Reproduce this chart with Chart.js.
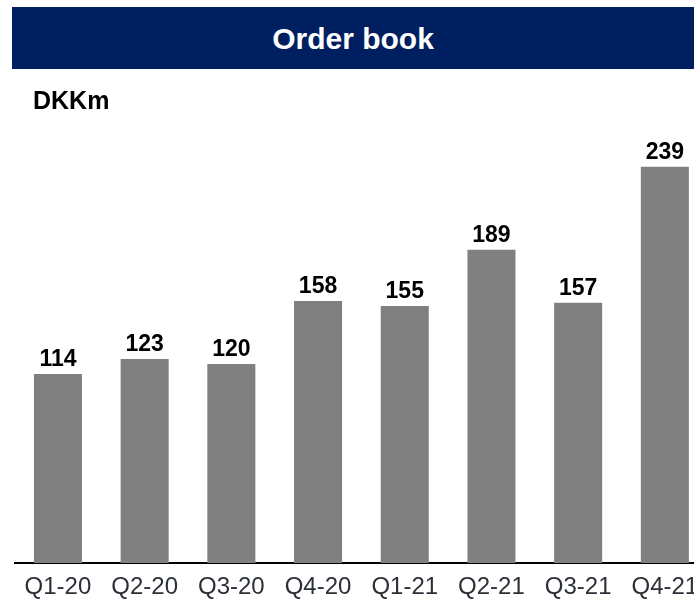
<!DOCTYPE html>
<html>
<head>
<meta charset="utf-8">
<script src="https://cdn.jsdelivr.net/npm/chart.js@4/dist/chart.umd.min.js"></script>
<style>
  html, body { margin: 0; padding: 0; width: 694px; height: 600px; overflow: hidden; background: #fff; }
  #banner { position: absolute; left: 12px; top: 7px; width: 682px; height: 62px; background: #001f60;
    color: #fff; font: bold 30px "Liberation Sans", Arial, sans-serif; text-align: center; line-height: 64px; z-index: 2; }
  #unit { position: absolute; left: 33px; top: 86px; font: bold 25px "Liberation Sans", Arial, sans-serif; color: #000; z-index: 2; }
  #wrap { position: absolute; left: 0; top: 0; width: 720px; height: 600px; }
</style>
</head>
<body>
<div id="banner">Order book</div>
<div id="unit">DKKm</div>
<div id="wrap"><canvas id="c" width="720" height="600"></canvas></div>
<script>
const categories = ["Q1-20", "Q2-20", "Q3-20", "Q4-20", "Q1-21", "Q2-21", "Q3-21", "Q4-21"];
const orderBook = [114, 123, 120, 158, 155, 189, 157, 239];

const valueLabels = {
  id: 'valueLabels',
  afterDatasetsDraw(chart) {
    const ctx = chart.ctx;
    const meta = chart.getDatasetMeta(0);
    ctx.save();
    ctx.font = 'bold 23px "Liberation Sans", Arial, sans-serif';
    ctx.fillStyle = '#000';
    ctx.textAlign = 'center';
    ctx.textBaseline = 'alphabetic';
    meta.data.forEach((bar, i) => {
      ctx.fillText(String(orderBook[i]), bar.x, bar.y - 8);
    });
    ctx.restore();
  }
};

new Chart(document.getElementById('c'), {
  type: 'bar',
  data: {
    labels: categories,
    datasets: [{
      data: orderBook,
      backgroundColor: '#808080',
      borderWidth: 0,
      barPercentage: 0.554,
      categoryPercentage: 1.0
    }]
  },
  options: {
    responsive: false,
    animation: false,
    events: [],
    layout: { padding: { left: 14.6, right: 11.8, top: 132, bottom: 0 } },
    plugins: { legend: { display: false }, tooltip: { enabled: false }, title: { display: false } },
    scales: {
      x: {
        grid: { display: false, drawTicks: false },
        border: { display: true, color: '#000', width: 2 },
        ticks: { color: '#2b3038', font: { family: '"Liberation Sans", Arial, sans-serif', size: 24 }, padding: 10, maxRotation: 0, autoSkip: false },
        afterFit: s => { s.height = 37; }
      },
      y: { display: false, min: 0, max: 260 }
    }
  },
  plugins: [valueLabels]
});
</script>
</body>
</html>
